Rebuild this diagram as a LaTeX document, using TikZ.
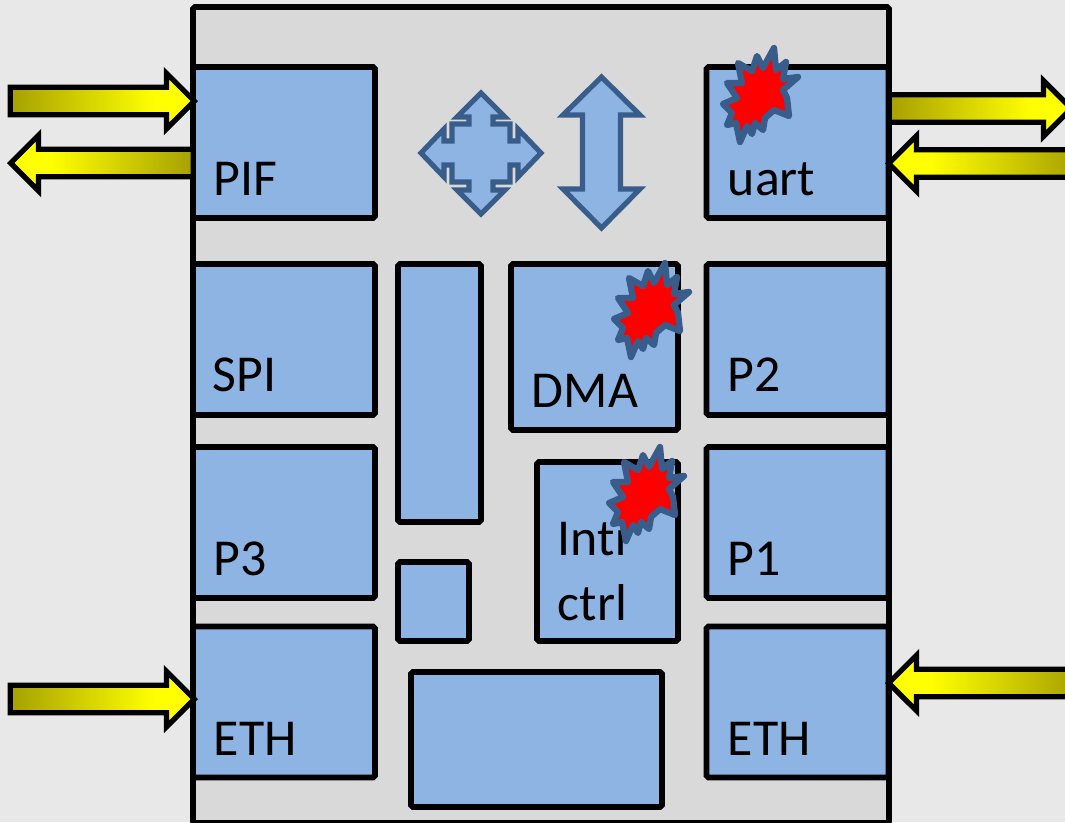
\documentclass[tikz,border=0pt]{standalone}
\usepackage{fontspec}
\setmainfont{Carlito}
\usetikzlibrary{shapes.arrows}
\definecolor{pagegray}{HTML}{E8E8E8}
\definecolor{panelgray}{HTML}{D9D9D9}
\definecolor{blockblue}{HTML}{8EB4E3}
\definecolor{edgeblue}{HTML}{385D8A}
\definecolor{darkyellow}{HTML}{A6A000}
\pgfdeclarehorizontalshading{iofade}{100bp}{color(0bp)=(darkyellow);color(25bp)=(darkyellow);color(64bp)=(yellow);color(100bp)=(yellow)}
\tikzset{
	block/.style={draw=black,fill=blockblue,line width=3.2pt,rounded corners=1pt,inner sep=0pt},
	bigblock/.style={block,minimum width=3.64cm,minimum height=3.02cm},
	blocktext/.style={anchor=base west,inner sep=0pt,font=\fontsize{29.5}{34}\selectfont},
	bigarrow/.style={draw=edgeblue,fill=blockblue,line width=2.9pt,miter limit=10},
	ioarrow/.style={single arrow,draw=black,line width=3pt,inner xsep=0pt,inner ysep=6.3pt,
		single arrow head extend=8pt,single arrow tip angle=90,miter limit=10,anchor=tip,shading=iofade},
	ioright/.style={ioarrow},
	ioleft/.style={ioarrow,shape border rotate=180,shading angle=180},
	burst/.pic={
		\draw[draw=edgeblue,fill=red,line width=3.6pt,line join=round]
			(14,-45)--(16,-23)--(26,-31)--(23,-14)--(38,-16)--(23,-3)--(27,5)--(29,23)--(14,17)
			--(5,25)--(3,37)--(-5,30)--(-8,41)--(-13,33)--(-20,49)--(-24,30)--(-33,32)--(-28,20)
			--(-37,11)--(-23,5)--(-33,-10)--(-18,-10)--(-22,-30)--(-8,-22)--(-3,-37)--(3,-25)--cycle;
	}
}
\begin{document}
\begin{tikzpicture}[x=0.02cm,y=-0.02cm]
	\clip (0,0) rectangle (1065,822);
	\fill[pagegray] (0,0) rectangle (1065,822);
	\draw[fill=panelgray,draw=black,line width=3.2pt,rounded corners=1pt] (193,7) rectangle (889,823);
	% left column
	\node[bigblock] (pif) at (284,142.5) {};
	\node[bigblock] (spi) at (284,339.5) {};
	\node[bigblock] (pthree) at (284,522.5) {};
	\node[bigblock] (ethleft) at (284,702) {};
	% right column
	\node[bigblock] (uart) at (797.5,142.5) {};
	\node[bigblock] (ptwo) at (797.5,339.5) {};
	\node[bigblock] (pone) at (797.5,522.5) {};
	\node[bigblock] (ethright) at (797.5,702) {};
	% middle
	\node[block,minimum width=1.66cm,minimum height=5.16cm] (tall) at (439.5,393) {};
	\node[block,minimum width=1.42cm,minimum height=1.58cm] (small) at (433.5,601.5) {};
	\node[block,minimum width=5.02cm,minimum height=2.7cm] (wide) at (536.5,739.5) {};
	\node[block,minimum width=3.34cm,minimum height=3.32cm] (dma) at (594.5,347) {};
	\node[block,minimum width=2.82cm,minimum height=3.58cm] (intr) at (607.5,551.5) {};
	% arrows
	\node[ioright,minimum height=3.68cm] (pifin) at (198,101) {};
	\node[ioleft,minimum height=3.65cm] (pifout) at (7,163) {};
	\node[ioright,minimum height=3.64cm] (uartout) at (1075,108.5) {};
	\node[ioleft,minimum height=3.8cm] (uartin) at (885,163.5) {};
	\node[ioright,minimum height=3.68cm] (ethin) at (198,699) {};
	\node[ioleft,minimum height=3.8cm] (ethout) at (885,683) {};
	% labels
	\node[blocktext] (piftext) at (213.5,195) {PIF};
	\node[blocktext] (spitext) at (212.5,391) {SPI};
	\node[blocktext] (pthreetext) at (213.5,575) {P3};
	\node[blocktext] (ethlefttext) at (213.5,755) {ETH};
	\node[blocktext] (uarttext) at (727.5,195) {uart};
	\node[blocktext] (ptwotext) at (727.5,391) {P2};
	\node[blocktext] (ponetext) at (727.5,575) {P1};
	\node[blocktext] (ethrighttext) at (727.5,755) {ETH};
	\node[blocktext] (dmatext) at (531.5,407) {DMA};
	\node[blocktext] (intrtext) at (557.5,555) {Intr};
	\node[blocktext] (ctrltext) at (557.5,620) {ctrl};
	% block arrows
	\draw[bigarrow] (481,93)--(505,117)--(493,117)--(493,124)--(510,124)--(510,141)--(518,141)--(518,129)
		--(541,153)--(518,177)--(518,165)--(510,165)--(510,182)--(493,182)--(493,190)--(505,190)
		--(481,214)--(457,190)--(469,190)--(469,182)--(452,182)--(452,165)--(444,165)--(444,177)
		--(421,153)--(444,129)--(444,141)--(452,141)--(452,124)--(469,124)--(469,117)--(457,117)--cycle;
	\draw[bigarrow] (601.5,77)--(640,115)--(620.5,115)--(620.5,189)--(640,189)--(601.5,228)
		--(563,189)--(582.5,189)--(582.5,115)--(563,115)--cycle;
	% bursts
	\pic at (760,93) {burst};
	\pic at (651,308) {burst};
	\pic at (646,492) {burst};
\end{tikzpicture}
\end{document}
